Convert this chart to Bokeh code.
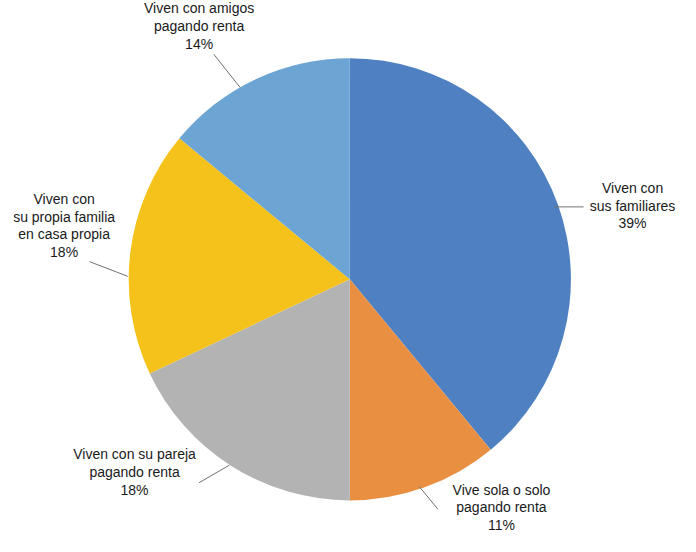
import math
from bokeh.plotting import figure
from bokeh.models import Range1d, ColumnDataSource
from bokeh.core.properties import value
from bokeh.embed import file_html
from bokeh.resources import INLINE

# ---- data ----
categories = [
    "Viven con\nsus familiares",
    "Vive sola o solo\npagando renta",
    "Viven con su pareja\npagando renta",
    "Viven con\nsu propia familia\nen casa propia",
    "Viven con amigos\npagando renta",
]
percent = [39, 11, 18, 18, 14]
colors = ["#4F81C2", "#E98F42", "#B3B3B3", "#F4C21A", "#6CA5D3"]

# ---- layout (reference-pixel positions of labels and leader lines) ----
label_xy = [(647, 212), (513, 520), (138, 484), (66, 232), (204, 28)]
leader_xy = [((567, 213), (597, 213)), ((429, 499), (448, 522)),
             ((204, 495), (235, 477)), ((92, 269), (131, 284)),
             ((219, 57), (246, 91))]
CX, CY, R = 358, 287, 226
W, H = 680, 536

def ty(py):
    return 552 - py

p = figure(width=W, height=H, output_backend="svg", toolbar_location=None,
           x_range=Range1d(1, 696), y_range=Range1d(2, 550),
           min_border=0)
p.axis.visible = False
p.grid.visible = False
p.outline_line_color = None
p.background_fill_color = "white"

total = sum(percent)
starts, ends = [], []
cum = 0.0
for v in percent:
    starts.append(math.pi / 2 - 2 * math.pi * cum / total)
    cum += v
    ends.append(math.pi / 2 - 2 * math.pi * cum / total)

src = ColumnDataSource(dict(start=starts, end=ends, color=colors))
p.wedge(x=CX, y=ty(CY), radius=R, radius_units="data", start_angle="start",
        end_angle="end", direction="clock", fill_color="color",
        line_color=None, source=src)

for (a, b) in leader_xy:
    p.line([a[0], b[0]], [ty(a[1]), ty(b[1])], line_color="#707070", line_width=1)

labels = [f"{c}\n{v}%" for c, v in zip(categories, percent)]
p.text(x=[xy[0] for xy in label_xy], y=[ty(xy[1]) for xy in label_xy],
       text=labels, text_align="center", text_baseline="middle",
       text_font=value("Liberation Sans"), text_font_size="14px",
       text_color="#1a1a1a", text_line_height=1.1)

open("out.html", "w").write(file_html(p, INLINE))
